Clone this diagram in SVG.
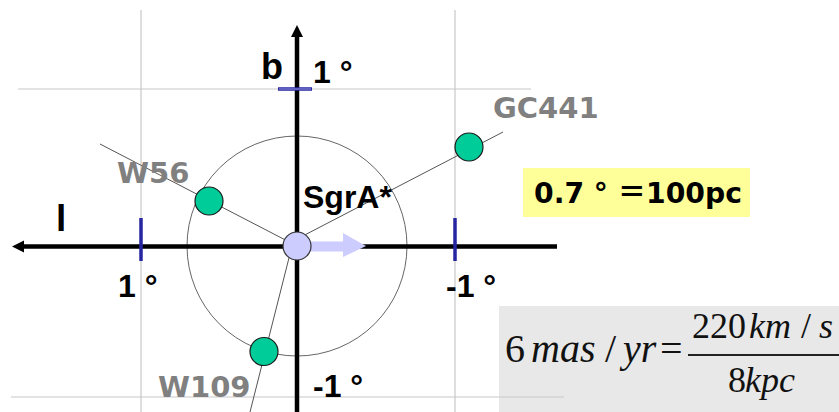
<svg xmlns="http://www.w3.org/2000/svg" width="839" height="412" viewBox="0 0 839 412">
<style>
.grid{stroke:#c8c8c8;stroke-width:1.2;fill:none}
.axis{stroke:#000;stroke-width:4.5;fill:none}
.tick{stroke:#2626a0;stroke-width:3.5;fill:none}
.conn{stroke:#555;stroke-width:1;fill:none}
.star{fill:#00cc99;stroke:#1a1a1a;stroke-width:1.2}
.lbl{font-family:"Liberation Sans",Arial,sans-serif;font-weight:bold;fill:#000}
.glbl{font-family:"DejaVu Sans",Verdana,sans-serif;font-weight:bold;fill:#808080;font-size:29px}
.math{font-family:"Liberation Serif","Times New Roman",serif;fill:#111}
.it{font-style:italic}
</style>
<rect width="839" height="412" fill="#fff"/>
<g id="formula-box">
<rect x="499" y="306" width="340" height="106" fill="#e8e8e8"/>
</g>
<g id="grid">
<line class="grid" x1="141" y1="10" x2="141" y2="412"/>
<line class="grid" x1="455" y1="10" x2="455" y2="412"/>
<line class="grid" x1="18" y1="89" x2="531" y2="89"/>
<line class="grid" x1="11" y1="397" x2="564" y2="397"/>
</g>
<g id="orbit">
<circle cx="297" cy="246" r="110" fill="none" stroke="#666" stroke-width="1"/>
</g>
<g id="axes">
<line class="axis" x1="297" y1="412" x2="297" y2="34"/>
<polygon points="297,25 291,37 303,37" fill="#000"/>
<line class="axis" x1="557" y1="246.5" x2="22" y2="246.5"/>
<polygon points="12,246.5 24,240.5 24,252.5" fill="#000"/>
</g>
<g id="ticks">
<line class="tick" x1="278" y1="89" x2="312" y2="89"/>
<line x1="279" y1="89" x2="311" y2="89" stroke="#9a9ae0" stroke-width="1"/>
<line class="tick" x1="141" y1="218" x2="141" y2="261"/>
<line class="tick" x1="455" y1="218" x2="455" y2="261"/>
</g>
<g id="connectors">
<line class="conn" x1="297" y1="246" x2="100" y2="144"/>
<line class="conn" x1="297" y1="239" x2="503" y2="132"/>
<line class="conn" x1="292" y1="246" x2="250" y2="412"/>
</g>
<g id="motion-arrow">
<polygon points="308,241.5 343,241.5 343,233 366,246 343,257 343,251.5 308,251.5" fill="#ccccff"/>
</g>
<g id="sgrA">
<circle cx="297" cy="246" r="14" fill="#ccccff" stroke="#333" stroke-width="1.2"/>
<text class="lbl" x="303" y="208" font-size="32">SgrA*</text>
</g>
<g id="w56">
<circle class="star" cx="209" cy="201" r="14"/>
<text class="glbl" x="117" y="183">W56</text>
</g>
<g id="gc441">
<circle class="star" cx="469" cy="147" r="14"/>
<text class="glbl" x="493" y="118">GC441</text>
</g>
<g id="w109">
<circle class="star" cx="264" cy="351.5" r="14"/>
<text class="glbl" x="158" y="397">W109</text>
</g>
<g id="axis-labels">
<text class="lbl" x="261" y="79" font-size="36">b</text>
<text class="lbl" x="56" y="231" font-size="37">l</text>
<text class="lbl" x="313" y="83" font-size="32">1 °</text>
<text class="lbl" x="118" y="297" font-size="32">1 °</text>
<text class="lbl" x="446" y="297" font-size="32">-1 °</text>
<text class="lbl" x="313" y="397" font-size="32">-1 °</text>
</g>
<g id="scale-box">
<rect x="523" y="168" width="227" height="49" fill="#ffff99"/>
<text x="534" y="203" font-family="'DejaVu Sans','Noto Sans CJK JP',sans-serif" font-weight="bold" font-size="29" fill="#000" textLength="208" lengthAdjust="spacingAndGlyphs">0.7 ° ＝100pc</text>
</g>
<g id="formula">
<text class="math" y="362" font-size="40"><tspan x="505">6</tspan><tspan x="531" class="it">mas</tspan><tspan x="605">/</tspan><tspan x="623" class="it">yr</tspan><tspan x="660">=</tspan></text>
<text class="math" y="338" font-size="36"><tspan x="692">220</tspan><tspan x="749" class="it">km</tspan><tspan x="801">/</tspan><tspan x="819" class="it">s</tspan></text>
<line x1="688" y1="355" x2="839" y2="355" stroke="#222" stroke-width="2"/>
<text class="math" y="392" font-size="36"><tspan x="728">8</tspan><tspan x="745" class="it">kpc</tspan></text>
</g>
</svg>
